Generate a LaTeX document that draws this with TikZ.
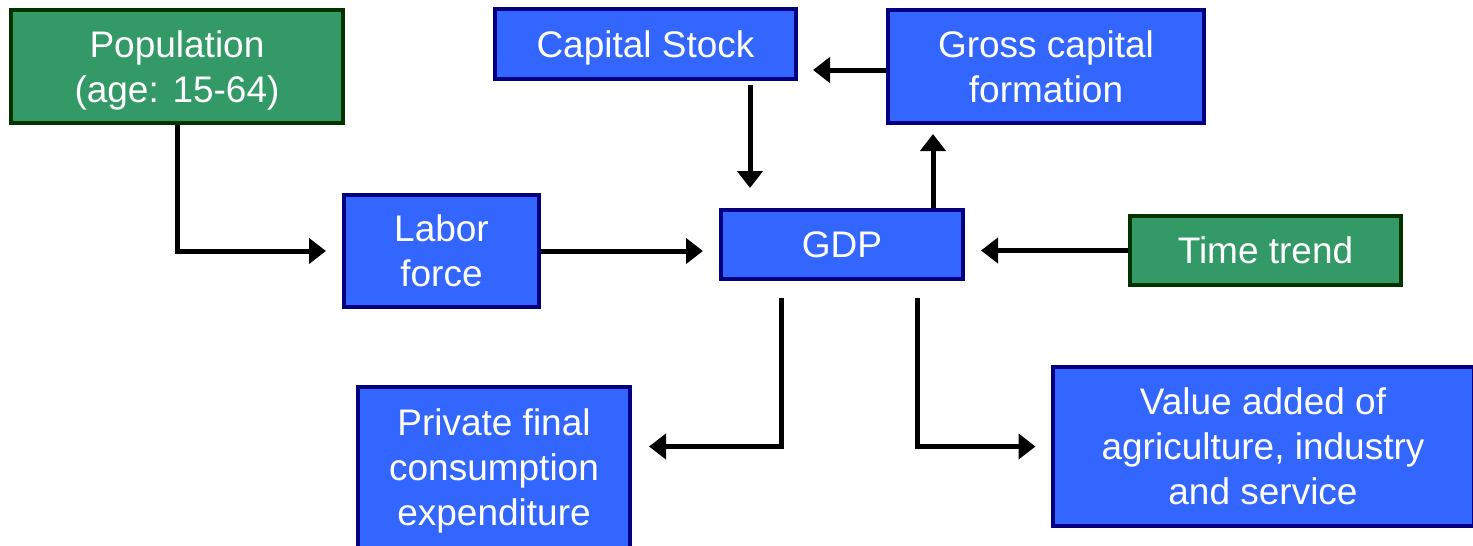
\documentclass[tikz,border=0pt]{standalone}
\usepackage{fontspec}
\setmainfont{Liberation Sans}
\usepackage{tikz}
\usetikzlibrary{calc,arrows.meta,positioning}

\definecolor{boxblue}{HTML}{3366FF}
\definecolor{boxnavy}{HTML}{000080}
\definecolor{boxgreen}{HTML}{339966}
\definecolor{boxdkgreen}{HTML}{003300}

\tikzset{
    box/.style={draw=boxnavy,fill=boxblue,line width=2pt,inner sep=0pt,
        text=white,align=center,font=\fontsize{18.5}{22.5}\selectfont},
    greenbox/.style={box,draw=boxdkgreen,fill=boxgreen},
    arr/.style={line width=2.5pt,-{Triangle[length=8.5pt,width=12.5pt]}}
}

\begin{document}
\begin{tikzpicture}[x=0.5pt,y=-0.5pt]
\useasboundingbox (0,0) rectangle (1473,546);
% boxes
\node[greenbox,minimum width=166pt,minimum height=56.5pt,text depth=0pt] (pop) at (177,66.5) {Population\\(age: 15-64)};
\node[box,minimum width=150.5pt,minimum height=35pt,text depth=0pt] (cap) at (645.5,44) {Capital Stock};
\node[box,minimum width=158pt,minimum height=56.5pt] (gross) at (1046,66.5) {Gross capital\\formation};
\node[box,minimum width=97.5pt,minimum height=56pt] (labor) at (441.5,251) {Labor\\force};
\node[box,minimum width=121pt,minimum height=34.5pt] (gdp) at (842,244.5) {GDP};
\node[greenbox,minimum width=135.5pt,minimum height=34.5pt] (time) at (1265.5,250.5) {Time trend};
\node[box,minimum width=136pt,minimum height=83.5pt] (priv) at (494,470.5) {Private final\\consumption\\expenditure};
\node[box,minimum width=210.5pt,minimum height=79.5pt] (value) at (1263,446.5) {Value added of\\agriculture, industry\\and service};
% arrows
\draw[arr,shorten >=8pt] (pop.south) |- (labor.west);
\draw[arr,shorten >=8pt] (labor.east) -- (labor.east -| gdp.west);
\draw[arr,shorten >=8pt] (time.west) -- (time.west -| gdp.east);
\draw[arr,shorten <=2pt,shorten >=10pt] ([xshift=52.25pt]cap.south) -- ([xshift=52.25pt]cap.south |- gdp.north);
\draw[arr,shorten >=4.5pt] ([xshift=45.5pt]gdp.north) -- ([xshift=45.5pt]gdp.north |- gross.south);
\draw[arr,shorten >=7.5pt] ([yshift=-1.75pt]gross.west) -- ([yshift=-1.75pt]gross.west -| cap.east);
\draw[arr,shorten <=8.5pt,shorten >=8.5pt] ([xshift=-30.5pt]gdp.south) |- ([yshift=12pt]priv.east);
\draw[arr,shorten <=8.5pt,shorten >=7.5pt] ([xshift=37.5pt]gdp.south) |- (value.west);
\end{tikzpicture}
\end{document}
